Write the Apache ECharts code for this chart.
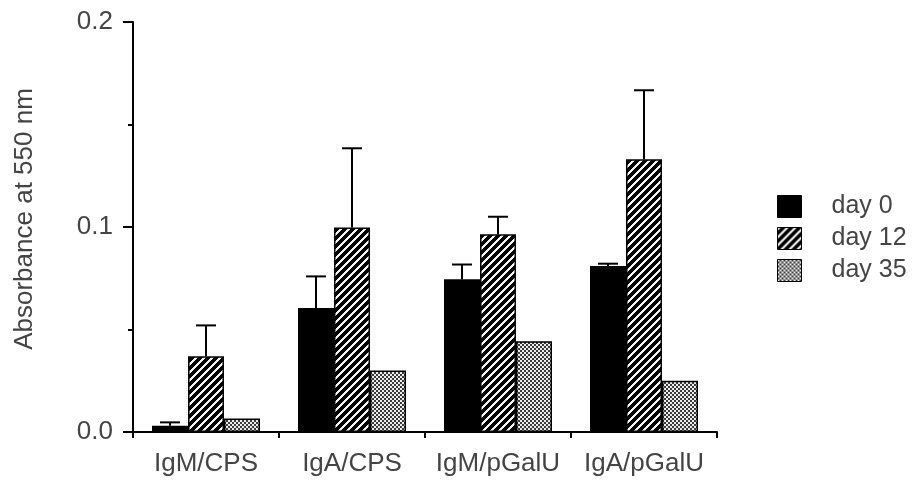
<!DOCTYPE html>
<html>
<head>
<meta charset="utf-8">
<script src="https://cdn.jsdelivr.net/npm/echarts@6/dist/echarts.min.js"></script>
<style>html,body{margin:0;padding:0;background:#fff}#c{width:912px;height:484px}</style>
</head>
<body>
<div id="c"></div>
<script>
const categories = ['IgM/CPS', 'IgA/CPS', 'IgM/pGalU', 'IgA/pGalU'];
const seriesNames = ['day 0', 'day 12', 'day 35'];
const day0 = [0.003, 0.0605, 0.0745, 0.081];
const day12 = [0.037, 0.0997, 0.0965, 0.133];
const day35 = [0.0066, 0.030, 0.0443, 0.025];
// upper end of error bars (null = none)
const day0ErrTop = [0.0047, 0.0759, 0.0817, 0.0821];
const day12ErrTop = [0.052, 0.1384, 0.105, 0.1667];
const day35ErrTop = [null, null, null, null];
const yTicks = [0.0, 0.1, 0.2];

function makePattern(fn, size) {
  const cv = document.createElement('canvas');
  cv.width = size; cv.height = size;
  const ctx = cv.getContext('2d');
  const img = ctx.createImageData(size, size);
  for (let y = 0; y < size; y++) for (let x = 0; x < size; x++) {
    const v = fn(x, y);
    const i = (y * size + x) * 4;
    img.data[i] = v; img.data[i + 1] = v; img.data[i + 2] = v; img.data[i + 3] = 255;
  }
  ctx.putImageData(img, 0, 0);
  return cv;
}
const stripe = makePattern((x, y) => ((x + y) % 8 < 3 ? 245 : 0), 8);
const checker = makePattern((x, y) => ((Math.floor(x / 2) + Math.floor(y / 2)) % 2 ? 60 : 235), 4);

const fills = ['#000', { image: stripe, repeat: 'repeat' }, { image: checker, repeat: 'repeat' }];
const values = [day0, day12, day35];
const errTops = [day0ErrTop, day12ErrTop, day35ErrTop];
const BAR_W = 36;

const chart = echarts.init(document.getElementById('c'), null, { renderer: 'canvas' });
const font = 'Liberation Sans';
const txtColor = '#444';

const barSeries = seriesNames.map((n, i) => ({
  name: n,
  type: 'bar',
  data: values[i],
  barWidth: BAR_W,
  barGap: '0%',
  itemStyle: { color: fills[i], borderColor: '#000', borderWidth: 1.5 },
  z: 2
}));

const errSeries = seriesNames.map((n, i) => ({
  type: 'custom',
  name: n + ' err',
  data: categories.map((c, k) => [k, values[i][k], errTops[i][k]]),
  encode: { x: 0, y: [1, 2] },
  z: 3,
  silent: true,
  renderItem: function (params, api) {
    const top = api.value(2);
    if (top == null || isNaN(top)) return;
    const base = api.coord([api.value(0), api.value(1)]);
    const up = api.coord([api.value(0), top]);
    const x = base[0] + (i - 1) * BAR_W;
    const hw = 10;
    return {
      type: 'group',
      children: [
        { type: 'line', shape: { x1: x, y1: base[1], x2: x, y2: up[1] }, style: { stroke: '#000', lineWidth: 2 } },
        { type: 'line', shape: { x1: x - hw, y1: up[1], x2: x + hw, y2: up[1] }, style: { stroke: '#000', lineWidth: 2 } }
      ]
    };
  }
}));

chart.setOption({
  animation: false,
  backgroundColor: '#fff',
  grid: { left: 133, right: 195, top: 22, bottom: 52 },
  legend: {
    data: seriesNames,
    orient: 'vertical',
    left: 772,
    top: 189,
    icon: 'rect',
    itemWidth: 24,
    itemHeight: 22,
    itemGap: 7,
    textStyle: { fontFamily: font, fontSize: 25, color: txtColor, padding: [0, 0, 0, 25] },
    itemStyle: { borderColor: '#000', borderWidth: 1 }
  },
  xAxis: {
    type: 'category',
    data: categories,
    axisLine: { lineStyle: { color: '#000', width: 2 } },
    axisTick: { show: true, alignWithLabel: false, length: 6, lineStyle: { color: '#000', width: 2 } },
    axisLabel: { fontFamily: font, fontSize: 26, color: txtColor, margin: 19, interval: 0 },
    splitLine: { show: false }
  },
  yAxis: {
    type: 'value',
    min: 0,
    max: 0.2,
    interval: 0.1,
    name: 'Absorbance at 550 nm',
    nameLocation: 'middle',
    nameGap: 95,
    nameTextStyle: { fontFamily: font, fontSize: 26, color: txtColor, padding: [0, 0, 0, 16] },
    axisLine: { show: true, lineStyle: { color: '#000', width: 2 } },
    axisTick: { show: true, length: 10, lineStyle: { color: '#000', width: 2 } },
    minorTick: { show: true, splitNumber: 2, length: 5, lineStyle: { color: '#000', width: 2 } },
    axisLabel: {
      fontFamily: font, fontSize: 26, color: txtColor, margin: 20,
      formatter: v => { const t = yTicks.find(t => Math.abs(t - v) < 1e-9); return t != null ? t.toFixed(1) : ''; }
    },
    splitLine: { show: false }
  },
  series: barSeries.concat(errSeries)
});
</script>
</body>
</html>
